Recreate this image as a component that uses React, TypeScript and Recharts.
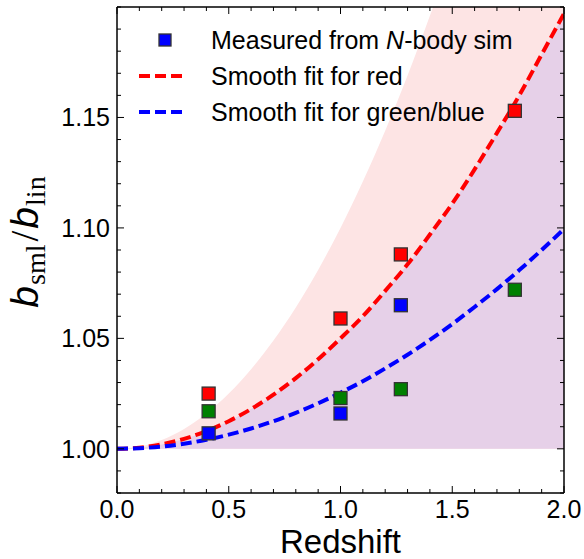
import { ComposedChart, Area, Line, Scatter, XAxis, YAxis, Legend, Label } from 'recharts';

// smooth fits
const fitZ = [0, 0.1, 0.2, 0.3, 0.4, 0.5, 0.6, 0.7, 0.8, 0.9, 1.0, 1.1, 1.2, 1.3, 1.4, 1.5, 1.6, 1.7, 1.8, 1.9, 2.0];
const redFit = [1.0, 1.0005, 1.002, 1.0045, 1.008, 1.0125, 1.018, 1.0245, 1.032, 1.0405, 1.05, 1.06, 1.0715, 1.0835, 1.097, 1.111, 1.1265, 1.143, 1.16, 1.1785, 1.197];
const blueFit = [1.0, 1.0003, 1.001, 1.0023, 1.0041, 1.0064, 1.0092, 1.0125, 1.0163, 1.0206, 1.0254, 1.0306, 1.0364, 1.0426, 1.0493, 1.0565, 1.0642, 1.0723, 1.0809, 1.09, 1.0995];
const pinkUpper = [1.0, 1.001, 1.004, 1.009, 1.016, 1.025, 1.036, 1.049, 1.064, 1.081, 1.1, 1.121, 1.144, 1.169, 1.196, 1.225, 1.256, 1.289, 1.324, 1.361, 1.4];

// N-body measurements
const zMeasured = [0.41, 1.0, 1.27, 1.78];
const redMeasured = [1.025, 1.059, 1.088, 1.153];
const greenMeasured = [1.017, 1.023, 1.027, 1.072];
const blueZ = [0.41, 1.0, 1.27];
const blueMeasured = [1.007, 1.016, 1.065];

const xTicks = [0, 0.1, 0.2, 0.3, 0.4, 0.5, 0.6, 0.7, 0.8, 0.9, 1.0, 1.1, 1.2, 1.3, 1.4, 1.5, 1.6, 1.7, 1.8, 1.9, 2.0];
const yTicks = [0.98, 0.99, 1.0, 1.01, 1.02, 1.03, 1.04, 1.05, 1.06, 1.07, 1.08, 1.09, 1.1, 1.11, 1.12, 1.13, 1.14, 1.15, 1.16, 1.17, 1.18, 1.19, 1.2];

const fitData = fitZ.map((z, i) => ({
  z,
  red: redFit[i],
  blue: blueFit[i],
  pink: [1, pinkUpper[i]],
  purple: [1, redFit[i]],
}));
const redPts = zMeasured.map((z, i) => ({ z, v: redMeasured[i] }));
const greenPts = zMeasured.map((z, i) => ({ z, v: greenMeasured[i] }));
const bluePts = blueZ.map((z, i) => ({ z, v: blueMeasured[i] }));

const font = 'Liberation Sans, Arial, Helvetica, sans-serif';
const serif = 'Liberation Serif, Times New Roman, serif';

const isMajorX = (v: number) => Math.abs(v * 2 - Math.round(v * 2)) < 1e-6;
const isMajorY = (v: number) => Math.abs(v * 20 - Math.round(v * 20)) < 1e-6 && v >= 0.999 && v <= 1.151;

const BottomTick = (props: any) => {
  const { x, y, payload } = props;
  const major = isMajorX(payload.value);
  return (
    <g>
      <line x1={x} x2={x} y1={y} y2={y - (major ? 7 : 4)} stroke='#000' strokeWidth={1} />
      {major && (
        <text x={x} y={y + 25} textAnchor='middle' fontSize={25} fontFamily={font} fill='#000'>
          {payload.value.toFixed(1)}
        </text>
      )}
    </g>
  );
};

const TopTick = (props: any) => {
  const { x, y, payload } = props;
  const major = isMajorX(payload.value);
  return <line x1={x} x2={x} y1={y} y2={y + (major ? 7 : 4)} stroke='#000' strokeWidth={1} />;
};

const LeftTick = (props: any) => {
  const { x, y, payload } = props;
  const major = isMajorY(payload.value);
  return (
    <g>
      <line x1={x} x2={x + (major ? 7 : 4)} y1={y} y2={y} stroke='#000' strokeWidth={1} />
      {major && (
        <text x={x - 7} y={y + 9} textAnchor='end' fontSize={25} fontFamily={font} fill='#000'>
          {payload.value.toFixed(2)}
        </text>
      )}
    </g>
  );
};

const RightTick = (props: any) => {
  const { x, y, payload } = props;
  const major = isMajorY(payload.value);
  return <line x1={x} x2={x - (major ? 7 : 4)} y1={y} y2={y} stroke='#000' strokeWidth={1} />;
};

const Square = (props: any) => {
  const { cx, cy, fill } = props;
  if (cx == null || cy == null) return null;
  return <rect x={cx - 6.5} y={cy - 6.5} width={13} height={13} fill={fill} stroke='#333' strokeWidth={1.3} />;
};

const XTitle = (props: any) => {
  const vb = props.viewBox;
  return (
    <text x={vb.x + vb.width / 2} y={553} textAnchor='middle' fontSize={33} fontFamily={font} fill='#000'>
      Redshift
    </text>
  );
};

const YTitle = () => (
  <text x={38} y={242} transform='rotate(-90, 38, 242)' textAnchor='middle' fill='#000'>
    <tspan fontFamily={font} fontStyle='italic' fontSize={39}>b</tspan>
    <tspan fontFamily={serif} fontSize={28} dy={7} dx={1}>sml</tspan>
    <tspan fontFamily={serif} fontSize={39} dy={-7} dx={3}>/</tspan>
    <tspan fontFamily={font} fontStyle='italic' fontSize={39} dx={2}>b</tspan>
    <tspan fontFamily={serif} fontSize={28} dy={7} dx={1}>lin</tspan>
  </text>
);

const LegendBox = () => {
  const row = { display: 'flex', alignItems: 'center', height: 36 };
  const txt = { fontFamily: font, fontSize: 25, color: '#000', marginLeft: 21, whiteSpace: 'nowrap' as const };
  return (
    <div>
      <div style={row}>
        <svg width={60} height={36}>
          <rect x={29} y={12} width={12} height={12} fill='#0000ff' stroke='#333' strokeWidth={1.3} />
        </svg>
        <span style={txt}>
          Measured from <i>N</i>-body sim
        </span>
      </div>
      <div style={row}>
        <svg width={60} height={36}>
          <line x1={9} x2={52} y1={18} y2={18} stroke='#ff0000' strokeWidth={4} strokeDasharray='11 5' />
        </svg>
        <span style={txt}>Smooth fit for red</span>
      </div>
      <div style={row}>
        <svg width={60} height={36}>
          <line x1={9} x2={52} y1={18} y2={18} stroke='#0000ff' strokeWidth={4} strokeDasharray='11 5' />
        </svg>
        <span style={txt}>Smooth fit for green/blue</span>
      </div>
    </div>
  );
};

export default function App() {
  return (
    <div style={{ position: 'absolute', left: 0, top: 0, width: 584, height: 559, background: '#fff' }}>
      <ComposedChart
        width={584}
        height={559}
        data={fitData}
        margin={{ top: 6, right: 19, bottom: 6, left: 57 }}>
        <XAxis
          xAxisId='b'
          dataKey='z'
          type='number'
          domain={[0, 2]}
          ticks={xTicks}
          interval={0}
          height={60}
          tickSize={0}
          tickMargin={0}
          tickLine={false}
          tick={BottomTick}
          axisLine={{ stroke: '#000', strokeWidth: 1.5 }}
          allowDataOverflow>
          <Label content={XTitle} />
        </XAxis>
        <XAxis
          xAxisId='t'
          orientation='top'
          dataKey='z'
          type='number'
          domain={[0, 2]}
          ticks={xTicks}
          interval={0}
          height={1}
          tickSize={0}
          tickMargin={0}
          tickLine={false}
          tick={TopTick}
          axisLine={{ stroke: '#000', strokeWidth: 1.5 }}
          allowDataOverflow
        />
        <YAxis
          yAxisId='l'
          type='number'
          domain={[0.98, 1.2]}
          ticks={yTicks}
          interval={0}
          width={60}
          tickSize={0}
          tickMargin={0}
          tickLine={false}
          tick={LeftTick}
          axisLine={{ stroke: '#000', strokeWidth: 1.5 }}
          allowDataOverflow
        />
        <YAxis
          yAxisId='r'
          orientation='right'
          type='number'
          domain={[0.98, 1.2]}
          ticks={yTicks}
          interval={0}
          width={1}
          tickSize={0}
          tickMargin={0}
          tickLine={false}
          tick={RightTick}
          axisLine={{ stroke: '#000', strokeWidth: 1.5 }}
          allowDataOverflow
        />
        <Legend
          layout='vertical'
          align='center'
          verticalAlign='middle'
          content={LegendBox}
          wrapperStyle={{ left: 130, top: 22, width: 440 }}
        />
        <Area xAxisId='b' yAxisId='l' type='monotone' dataKey='pink' stroke='none' fill='#fde4e4' fillOpacity={1} isAnimationActive={false} />
        <Area xAxisId='b' yAxisId='l' type='monotone' dataKey='purple' stroke='none' fill='#e6d0e8' fillOpacity={1} isAnimationActive={false} />
        <Line xAxisId='b' yAxisId='l' type='monotone' dataKey='red' stroke='#ff0000' strokeWidth={4} strokeDasharray='11 5' dot={false} isAnimationActive={false} />
        <Line xAxisId='b' yAxisId='l' type='monotone' dataKey='blue' stroke='#0000ff' strokeWidth={4} strokeDasharray='11 5' dot={false} isAnimationActive={false} />
        <Scatter xAxisId='b' yAxisId='l' data={redPts} dataKey='v' fill='#ff0000' shape={Square} isAnimationActive={false} />
        <Scatter xAxisId='b' yAxisId='l' data={greenPts} dataKey='v' fill='#008000' shape={Square} isAnimationActive={false} />
        <Scatter xAxisId='b' yAxisId='l' data={bluePts} dataKey='v' fill='#0000ff' shape={Square} isAnimationActive={false} />
      </ComposedChart>
      <svg width={60} height={559} style={{ position: 'absolute', left: 0, top: 0 }}>
        <YTitle />
      </svg>
    </div>
  );
}
